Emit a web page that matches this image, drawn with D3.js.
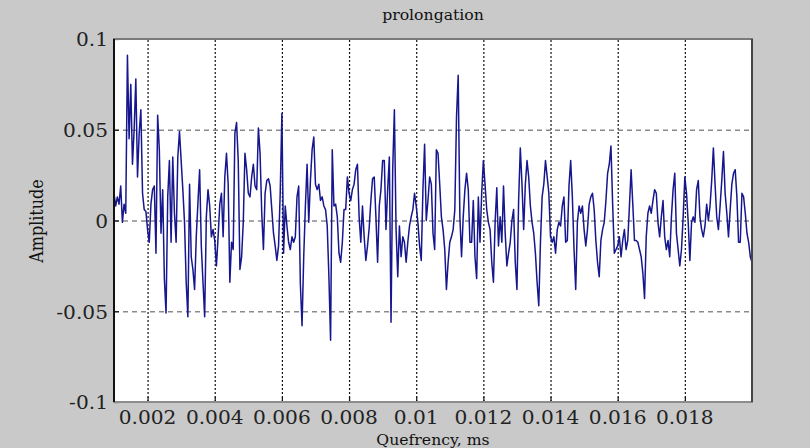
<!DOCTYPE html>
<html>
<head>
<meta charset="utf-8">
<script src="https://cdn.jsdelivr.net/npm/d3@7"></script>
<style>
  html, body { margin: 0; padding: 0; background: #c9c9c9; }
  svg { display: block; }
</style>
</head>
<body>
<script>
// ---- data ----
const titleText = "prolongation";
const xLabelText = "Quefrency, ms";
const yLabelText = "Amplitude";
const xDomain = [0.001, 0.02];
const yDomain = [-0.1, 0.1];
const xTickValues = [0.002, 0.004, 0.006, 0.008, 0.01, 0.012, 0.014, 0.016, 0.018];
const xTickLabels = ["0.002", "0.004", "0.006", "0.008", "0.01", "0.012", "0.014", "0.016", "0.018"];
const yTickValues = [-0.1, -0.05, 0, 0.05, 0.1];
const yTickLabels = ["-0.1", "-0.05", "0", "0.05", "0.1"];
const qStart = 0.001;   // first quefrency sample
const qStep = 0.00005;  // sample spacing
const amplitude = [
  0.015, 0.008, 0.013, 0.009, 0.019, -0.001, 0.009, 0.004, 0.091, 0.045, 0.075, 0.031, 0.050, 0.078, 0.024, 0.048, 0.061, 0.015, 0.006, 0.005,
  -0.005, -0.012, 0.009, 0.017, 0.019, -0.018, 0.058, 0.039, -0.007, 0.017, -0.032, -0.051, 0.013, 0.033, -0.012, 0.035, 0.004, -0.012, 0.035, 0.049,
  0.033, 0.017, -0.001, -0.034, -0.053, 0.020, -0.020, -0.027, -0.038, -0.009, 0.010, 0.028, -0.014, -0.034, -0.053, 0.002, 0.017, 0.008, -0.009, -0.005,
  -0.011, -0.025, -0.009, 0.009, 0.015, -0.009, 0.024, 0.037, 0.020, -0.034, -0.012, -0.016, 0.048, 0.054, 0.033, -0.027,
  -0.020, -0.001, 0.037, 0.028, 0.015, 0.013, 0.024, 0.031, 0.019, 0.017, 0.051, 0.037, 0.004, -0.016, 0.015, 0.022, 0.023, 0.019, 0.006, -0.007,
  -0.014, -0.022, -0.014, 0.015, 0.059, -0.018, 0.008, -0.003, -0.012, -0.016, -0.009, -0.012, -0.009, 0.013, 0.019, -0.035, -0.058, -0.020, 0.008, 0.031,
  -0.001, 0.022, 0.039, 0.046, 0.020, 0.017, 0.020, 0.011, 0.013, 0.008, 0.006, -0.003, -0.031, -0.066, 0.039, 0.008, 0.009, 0.002, -0.018, -0.023,
  -0.012, 0.006, 0.006, 0.024, 0.015, 0.011, 0.017, 0.020, 0.028, 0.031, 0.002, -0.012, 0.008, -0.009, -0.022, -0.014,
  -0.004, 0.011, 0.023, 0.024, 0.002, -0.023, 0.008, 0.017, 0.033, 0.033, -0.005, 0.017, 0.035, -0.056, 0.028, 0.061, -0.005, -0.031, -0.003, -0.020,
  -0.009, -0.012, -0.023, -0.012, -0.003, 0.002, 0.006, 0.015, 0.008, -0.001, -0.014, -0.022, 0.017, 0.042, 0.000, 0.011, 0.024, 0.020, -0.007, -0.016,
  0.039, 0.037, 0.020, 0.002, -0.005, -0.016, -0.038, -0.023, -0.012, -0.009, -0.005, 0.006, 0.057, 0.080, 0.002, -0.020, 0.002, 0.017, 0.026, 0.017,
  -0.012, -0.012, 0.011, -0.020, -0.032, 0.013, -0.012, 0.015, 0.033, 0.020, 0.006, -0.001, -0.005, -0.023, -0.034, -0.001,
  0.018, -0.014, 0.002, -0.012, 0.019, -0.007, -0.025, -0.018, -0.012, 0.000, 0.006, -0.023, -0.038, 0.011, 0.040, 0.020, -0.005, 0.020, 0.033, 0.024,
  0.008, -0.001, -0.007, -0.018, -0.034, -0.047, -0.012, 0.013, 0.020, 0.033, 0.024, 0.015, -0.009, -0.012, -0.009, -0.018, -0.005, -0.001, -0.003, 0.008,
  0.013, -0.012, -0.011, 0.019, 0.033, 0.013, -0.016, -0.038, -0.001, 0.008, 0.004, 0.008, -0.005, -0.014, -0.005, 0.009, 0.013, 0.015, 0.006, -0.011,
  -0.023, -0.031, -0.011, -0.005, -0.001, 0.011, 0.026, 0.031, 0.041, 0.009, -0.018, -0.016, -0.014, -0.009, -0.020, -0.011,
  -0.005, -0.016, -0.011, 0.008, 0.028, 0.009, -0.011, -0.011, -0.012, -0.016, -0.020, -0.029, -0.043, -0.009, 0.004, 0.008, 0.004, 0.011, 0.017, 0.015,
  -0.001, -0.009, 0.002, 0.011, -0.009, -0.016, -0.011, -0.020, 0.002, 0.017, 0.026, -0.007, -0.016, -0.025, -0.016, 0.002, 0.024, 0.015, -0.001, -0.022,
  -0.001, 0.002, -0.001, 0.017, 0.022, 0.002, -0.005, -0.009, -0.003, 0.009, 0.000, 0.008, 0.022, 0.040, 0.020, 0.002, -0.005, 0.008, 0.022, 0.038,
  0.015, 0.004, -0.009, 0.006, 0.020, 0.026, 0.028, 0.013, -0.012, -0.012, 0.015, 0.013, 0.004, -0.007, -0.012, -0.020, -0.023
];
const series = amplitude.map((a, i) => ({ q: qStart + i * qStep, a: a }));

// ---- layout ----
const W = 810, H = 448;
const L = 114, R = 752, T = 39, B = 402;
const FONT = "'DejaVu Serif', 'Liberation Serif', serif";
const SX = 1.12;

const svg = d3.select("body").append("svg").attr("width", W).attr("height", H);
svg.append("rect").attr("width", W).attr("height", H).attr("fill", "#c9c9c9");

const x = d3.scaleLinear().domain(xDomain).range([L, R]);
const y = d3.scaleLinear().domain(yDomain).range([B, T]);

svg.append("rect").attr("x", L).attr("y", T).attr("width", R - L).attr("height", B - T).attr("fill", "#ffffff");

// vertical dotted grid
const gx = svg.append("g").attr("transform", `translate(0,${B})`)
  .call(d3.axisBottom(x).tickValues(xTickValues).tickSize(-(B - T)).tickFormat(""));
gx.select(".domain").remove();
gx.selectAll(".tick line").attr("stroke", "#111").attr("stroke-width", 1.2).attr("stroke-dasharray", "2,2");

// horizontal dashed grid
const gy = svg.append("g").attr("transform", `translate(${L},0)`)
  .call(d3.axisLeft(y).tickValues(yTickValues.filter(v => v > yDomain[0] && v < yDomain[1])).tickSize(-(R - L)).tickFormat(""));
gy.select(".domain").remove();
gy.selectAll(".tick line").attr("stroke", "#8a8a8a").attr("stroke-width", 1.4).attr("stroke-dasharray", "5,4");

// signal
const line = d3.line().x(d => x(d.q)).y(d => y(d.a));
svg.append("path").datum(series).attr("d", line)
  .attr("fill", "none").attr("stroke", "#16168f").attr("stroke-width", 1.5).attr("stroke-linejoin", "round");

// ticks (inward)
const tb = svg.append("g").attr("transform", `translate(0,${B})`)
  .call(d3.axisTop(x).tickValues(xTickValues).tickSize(5).tickFormat(""));
tb.select(".domain").remove();
tb.selectAll(".tick line").attr("stroke", "#111").attr("stroke-width", 1.2);
const tl = svg.append("g").attr("transform", `translate(${L},0)`)
  .call(d3.axisRight(y).tickValues(yTickValues).tickSize(5).tickFormat(""));
tl.select(".domain").remove();
tl.selectAll(".tick line").attr("stroke", "#111").attr("stroke-width", 1.2);

// frame
svg.append("line").attr("x1", L - 1).attr("x2", R + 1).attr("y1", T).attr("y2", T).attr("stroke", "#7a7a7a").attr("stroke-width", 2);
svg.append("line").attr("x1", L - 1).attr("x2", R + 1).attr("y1", B).attr("y2", B).attr("stroke", "#8c8c8c").attr("stroke-width", 2);
svg.append("line").attr("x1", R).attr("x2", R).attr("y1", T).attr("y2", B).attr("stroke", "#444").attr("stroke-width", 2);
svg.append("line").attr("x1", L).attr("x2", L).attr("y1", T).attr("y2", B).attr("stroke", "#111").attr("stroke-width", 2);

// tick labels
const xl = svg.append("g");
xTickValues.forEach((v, i) => {
  xl.append("text")
    .attr("transform", `translate(${x(v)},424) scale(${SX},1)`)
    .attr("text-anchor", "middle")
    .attr("font-family", FONT).attr("font-size", 18).attr("fill", "#222")
    .text(xTickLabels[i]);
});
const yl = svg.append("g");
yTickValues.forEach((v, i) => {
  yl.append("text")
    .attr("transform", `translate(108,${y(v) + 1}) scale(${SX},1)`)
    .attr("text-anchor", "end").attr("dy", "0.35em")
    .attr("font-family", FONT).attr("font-size", 18).attr("fill", "#222")
    .text(yTickLabels[i]);
});

// title and labels
svg.append("text")
  .attr("transform", `translate(${(L + R) / 2},20) scale(${SX},1)`)
  .attr("text-anchor", "middle").attr("font-family", FONT).attr("font-size", 14).attr("fill", "#111")
  .text(titleText);
svg.append("text")
  .attr("transform", `translate(${(L + R) / 2},445) scale(${SX},1)`)
  .attr("text-anchor", "middle").attr("font-family", FONT).attr("font-size", 14).attr("fill", "#111")
  .text(xLabelText);
svg.append("text")
  .attr("transform", `translate(43,221) scale(${SX},1) rotate(-90)`)
  .attr("text-anchor", "middle").attr("font-family", FONT).attr("font-size", 16).attr("fill", "#111")
  .text(yLabelText);
</script>
</body>
</html>
